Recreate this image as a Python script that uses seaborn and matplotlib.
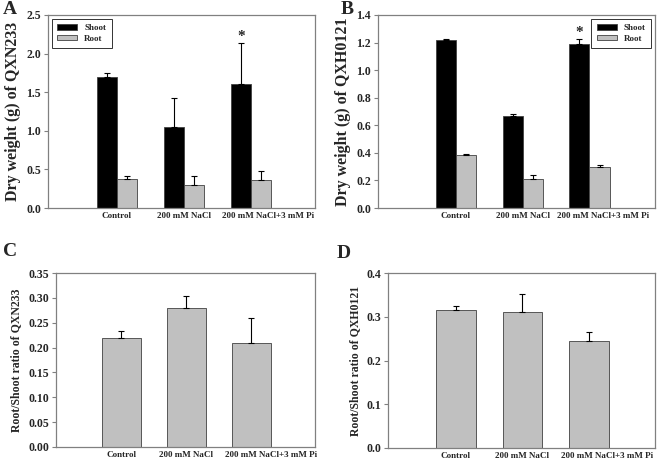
import numpy as np
import pandas as pd
import matplotlib
matplotlib.use("Agg")
import matplotlib.pyplot as plt
from matplotlib.transforms import ScaledTranslation
import seaborn as sns

# treatments on the x axis
categories = ["Control", "200 mM NaCl", "200 mM NaCl+3 mM Pi"]
tissues = ["Shoot", "Root"]

# A: dry weight of QXN233 (g), mean and upper error
shoot_a = [1.70, 1.05, 1.60]
shoot_a_err = [0.05, 0.37, 0.54]
root_a = [0.37, 0.30, 0.36]
root_a_err = [0.05, 0.11, 0.12]

# B: dry weight of QXH0121 (g)
shoot_b = [1.215, 0.67, 1.19]
shoot_b_err = [0.01, 0.012, 0.035]
root_b = [0.385, 0.21, 0.295]
root_b_err = [0.01, 0.03, 0.02]

# C / D: root/shoot ratio
ratio_c = [0.22, 0.28, 0.21]
ratio_c_err = [0.014, 0.023, 0.05]
ratio_d = [0.315, 0.312, 0.245]
ratio_d_err = [0.01, 0.04, 0.02]

GRAY = "#c0c0c0"
SPINE = "#808080"

sns.set_theme(style="white")
plt.rcParams["font.family"] = ["Liberation Serif", "DejaVu Serif"]
plt.rcParams["font.weight"] = "bold"


def style_axes(ax, ylim, yticks, fmt, ylabel, ylabel_size, shift_px):
    ax.set_ylim(*ylim)
    ax.set_yticks(yticks)
    ax.set_yticklabels([fmt.format(t) for t in yticks], fontsize=8.5, fontweight="bold")
    ax.set_xticklabels(categories, fontsize=6.5, fontweight="bold")
    ax.set_xlabel("")
    ax.set_ylabel(ylabel, fontsize=ylabel_size, fontweight="bold")
    ax.tick_params(axis="y", which="major", direction="out", length=3,
                   width=0.8, color=SPINE, left=True, pad=2)
    ax.tick_params(axis="x", length=0, pad=3)
    for sp in ax.spines.values():
        sp.set_color(SPINE)
        sp.set_linewidth(0.9)
        sp.set_visible(True)
    # the long last label sits to the right of its bars, as in the original
    # (done after tick_params, which would reset the transform)
    last = ax.get_xticklabels()[-1]
    last.set_transform(last.get_transform() +
                       ScaledTranslation(shift_px / 100, 0, ax.figure.dpi_scale_trans))


def add_errors(ax, errs):
    # one container per hue level, in draw order
    for cont, err in zip(ax.containers, errs):
        xs = [p.get_x() + p.get_width() / 2 for p in cont.patches]
        ys = [p.get_height() for p in cont.patches]
        ax.errorbar(xs, ys, yerr=[np.zeros(len(err)), err], fmt="none",
                    ecolor="black", elinewidth=0.8, capsize=2.2, capthick=0.8)


def weight_panel(ax, shoot, shoot_err, root, root_err, ylim, yticks, ylabel,
                 legend_loc, star_y, xlim, shift_px):
    df = pd.DataFrame({
        "treatment": categories * 2,
        "tissue": [tissues[0]] * 3 + [tissues[1]] * 3,
        "weight": shoot + root,
    })
    sns.barplot(data=df, x="treatment", y="weight", hue="tissue",
                palette=["black", GRAY], width=0.6, edgecolor="#404040",
                linewidth=0.6, errorbar=None, ax=ax)
    add_errors(ax, [shoot_err, root_err])
    style_axes(ax, ylim, yticks, "{:.1f}", ylabel, 11.5, shift_px)
    ax.set_xlim(*xlim)
    # asterisk over the shoot bar of the Pi treatment
    p = ax.containers[0].patches[2]
    ax.text(p.get_x() + p.get_width() / 2, star_y, "*", ha="center",
            va="center", fontsize=11, fontweight="bold")
    leg = ax.legend(loc=legend_loc, fontsize=6.5, frameon=True, fancybox=False,
                    handlelength=2.2, handleheight=0.6, borderpad=0.6,
                    labelspacing=0.3, borderaxespad=0.4)
    leg.get_frame().set_edgecolor("black")
    leg.get_frame().set_linewidth(0.7)


def ratio_panel(ax, vals, errs, ylim, yticks, fmt, ylabel, xlim, shift_px):
    df = pd.DataFrame({"treatment": categories, "ratio": vals})
    sns.barplot(data=df, x="treatment", y="ratio", color=GRAY, saturation=1,
                width=0.6, edgecolor="#404040", linewidth=0.6,
                errorbar=None, ax=ax)
    add_errors(ax, [errs])
    style_axes(ax, ylim, yticks, fmt, ylabel, 8.5, shift_px)
    ax.set_xlim(*xlim)


fig = plt.figure(figsize=(6.6, 4.61), dpi=100)
ax_a = fig.add_axes([0.0727, 0.5488, 0.4045, 0.4187])
ax_b = fig.add_axes([0.5727, 0.5488, 0.4197, 0.4187])
ax_c = fig.add_axes([0.0848, 0.0304, 0.3924, 0.3774])
ax_d = fig.add_axes([0.5879, 0.0282, 0.4045, 0.3796])

weight_panel(ax_a, shoot_a, shoot_a_err, root_a, root_a_err, (0, 2.5),
             [0.0, 0.5, 1.0, 1.5, 2.0, 2.5], "Dry weight (g) of QXN233",
             "upper left", 2.22, (-1.03, 2.96), 17)
weight_panel(ax_b, shoot_b, shoot_b_err, root_b, root_b_err, (0, 1.4),
             [0.0, 0.2, 0.4, 0.6, 0.8, 1.0, 1.2, 1.4], "Dry weight (g) of QXH0121",
             "upper right", 1.275, (-1.165, 2.98), 14)
ratio_panel(ax_c, ratio_c, ratio_c_err, (0, 0.35),
            [0.0, 0.05, 0.10, 0.15, 0.20, 0.25, 0.30, 0.35], "{:.2f}",
            "Root/Shoot ratio of QXN233", (-1.0, 2.98), 20)
ratio_panel(ax_d, ratio_d, ratio_d_err, (0, 0.4),
            [0.0, 0.1, 0.2, 0.3, 0.4], "{:.1f}",
            "Root/Shoot ratio of QXH0121", (-1.02, 2.99), 18)

for letter, x, y in [("A", 0.004, 0.997), ("B", 0.516, 0.997),
                     ("C", 0.004, 0.472), ("D", 0.51, 0.468)]:
    fig.text(x, y, letter, fontsize=14, fontweight="bold", ha="left", va="top")

fig.savefig("out.png", dpi=100)
